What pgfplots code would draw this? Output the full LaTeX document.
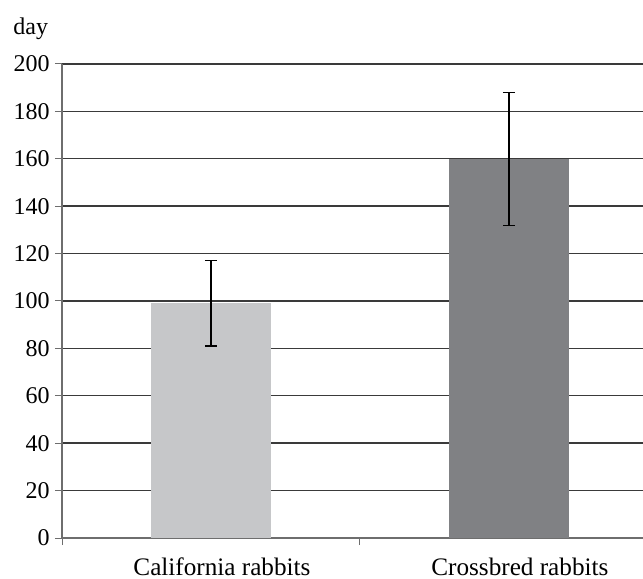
\documentclass[border=0pt]{standalone}
\usepackage{pgfplots}
\pgfplotsset{compat=1.18}
\usepackage{fontspec}
\setmainfont{Liberation Serif}
\definecolor{barA}{HTML}{C6C7C9}
\definecolor{barB}{HTML}{808184}
\definecolor{gridc}{HTML}{3A3A3A}
\definecolor{axc}{HTML}{6E6E6E}
\begin{document}
\begin{tikzpicture}
\fontsize{12bp}{14bp}\selectfont
\path[use as bounding box] (-31bp,-20.5bp) rectangle (290.5bp,269bp);
\begin{axis}[
  at={(0,0)}, anchor=south west,
  scale only axis, width=290.5bp, height=237bp,
  xmin=-0.5, xmax=1.45, ymin=0, ymax=200,
  ytick={0,20,...,200},
  xtick={-0.5,0.5},
  xticklabels={},
  extra x ticks={0,1},
  extra x tick labels={California rabbits, Crossbred rabbits},
  extra x tick style={major tick length=0pt, grid=none,
    xticklabel style={xshift=5.5bp, yshift=-5.8bp, font=\fontsize{12.6bp}{14bp}\selectfont}},
  tick align=outside,
  major tick length=3.5bp,
  xtick style={draw=axc, line width=0.5bp},
  ytick style={draw=axc, line width=0.5bp},
  axis lines*=left,
  axis line style={draw=axc, line width=0.7bp, -},
  ymajorgrids,
  grid style={draw=gridc, line width=0.7bp},
  ticklabel style={font=\fontsize{12bp}{14bp}\selectfont},
  /pgf/number format/assume math mode=true,
  yticklabel style={xshift=1.5bp},
  ybar, bar width=0.4, bar shift=0pt,
  clip=true,
]
\addplot[fill=barA, draw=none,
  error bars/.cd, y dir=both, y explicit,
  error bar style={black, line width=0.6bp},
  error mark options={rotate=90, mark size=3bp, black, line width=0.6bp}]
  coordinates {(0,99) +- (0,18)};
\addplot[fill=barB, draw=none,
  error bars/.cd, y dir=both, y explicit,
  error bar style={black, line width=0.6bp},
  error mark options={rotate=90, mark size=3bp, black, line width=0.6bp}]
  coordinates {(1,160) +- (0,28)};
\end{axis}
\node[anchor=base west, inner sep=0pt, font=\fontsize{12bp}{14bp}\selectfont] at (-24.5bp,251.5bp) {day};
\end{tikzpicture}
\end{document}
